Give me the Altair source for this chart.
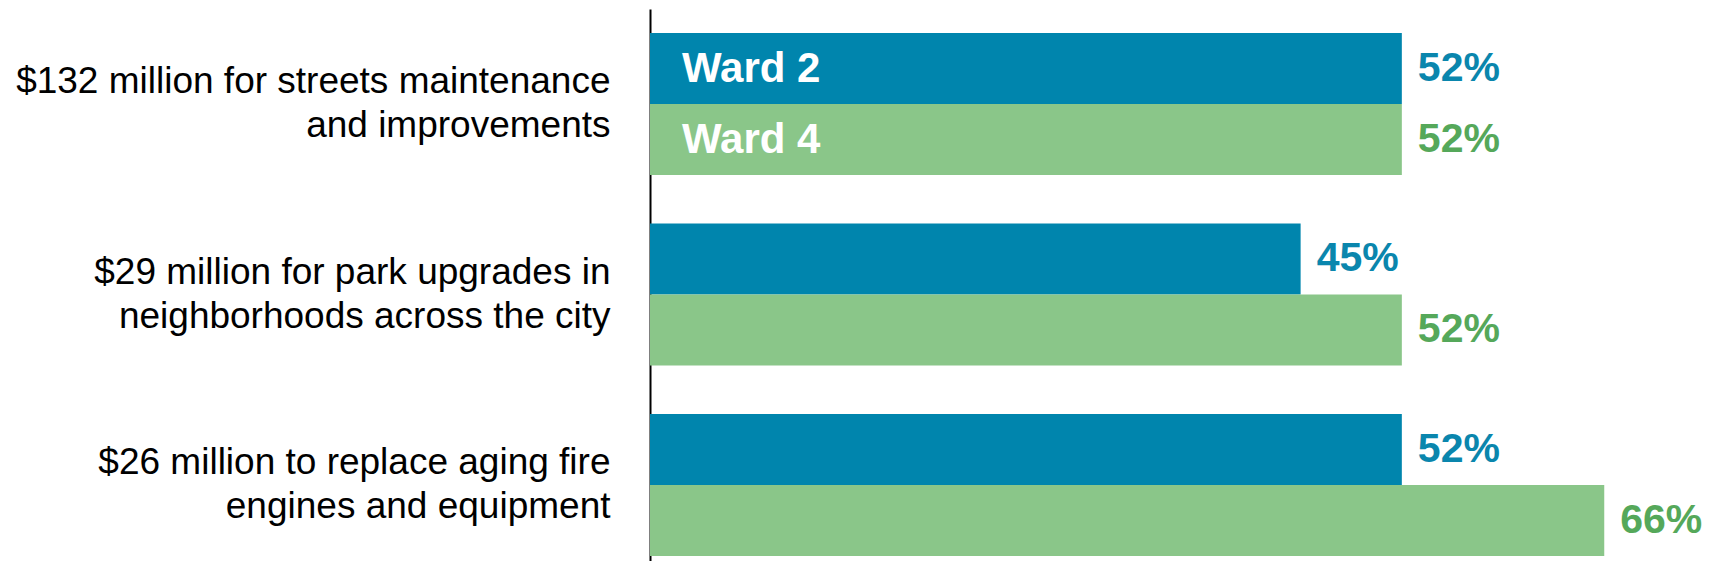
import altair as alt
import pandas as pd

categories = [
    "$132 million for streets maintenance|and improvements",
    "$29 million for park upgrades in|neighborhoods across the city",
    "$26 million to replace aging fire|engines and equipment",
]
wards = ["Ward 2", "Ward 4"]
ward2_values = [52, 45, 52]
ward4_values = [52, 52, 66]

bar_colors = ["#0085AD", "#8AC689"]
label_colors = ["#0A86AD", "#55A85A"]

rows = []
for i, cat in enumerate(categories):
    rows.append({"category": cat, "ward": wards[0], "value": ward2_values[i],
                 "label": f"{ward2_values[i]}%", "lc": label_colors[0]})
    rows.append({"category": cat, "ward": wards[1], "value": ward4_values[i],
                 "label": f"{ward4_values[i]}%", "lc": label_colors[1]})
df = pd.DataFrame(rows)

FONT = "Liberation Sans, Arial, sans-serif"

base = alt.Chart(df).encode(
    y=alt.Y(
        "category:N",
        sort=categories,
        scale=alt.Scale(paddingInner=0.2546, paddingOuter=0.0761, align=0.83),
        axis=alt.Axis(
            title=None,
            labelExpr="split(datum.label, '|')",
            labelFont=FONT,
            labelFontSize=37,
            labelColor="#000000",
            labelPadding=40,
            labelLineHeight=44,
            labelOffset=-22,
            labelLimit=0,
            ticks=False,
            domainColor="#000000",
            domainWidth=2,
            grid=False,
        ),
    ),
    yOffset=alt.YOffset("ward:N", sort=wards,
                        scale=alt.Scale(paddingInner=0, paddingOuter=0)),
)

xscale = alt.Scale(domain=[0, 72], nice=False, zero=True)

bars = base.mark_bar().encode(
    x=alt.X("value:Q", scale=xscale, axis=None),
    color=alt.Color("ward:N", scale=alt.Scale(domain=wards, range=bar_colors), legend=None),
)

values = base.mark_text(
    align="left", baseline="middle", dx=16, font=FONT, fontSize=41, fontWeight="bold"
).encode(
    x=alt.X("value:Q", scale=xscale, axis=None),
    text="label:N",
    color=alt.Color("lc:N", scale=None),
)

inner = base.mark_text(
    align="left", baseline="middle", font=FONT, fontSize=42, fontWeight="bold", color="#FFFFFF"
).encode(
    x=alt.value(32),
    text="ward:N",
).transform_filter(
    alt.FieldEqualPredicate(field="category", equal=categories[0])
)

chart = (
    alt.layer(bars, values, inner)
    .properties(
        width=1041,
        height=552,
        autosize=alt.AutoSizeParams(type="none"),
        padding={"left": 642, "top": 1, "right": 12, "bottom": 0},
        view=alt.ViewBackground(stroke="#FFFFFF", strokeOpacity=0, strokeWidth=0),
    )
    .configure_view(strokeWidth=0, strokeOpacity=0, stroke="#FFFFFF")
    .configure(background="#FFFFFF")
)

chart.save("out.html", embed_options={"renderer": "svg", "actions": False})
